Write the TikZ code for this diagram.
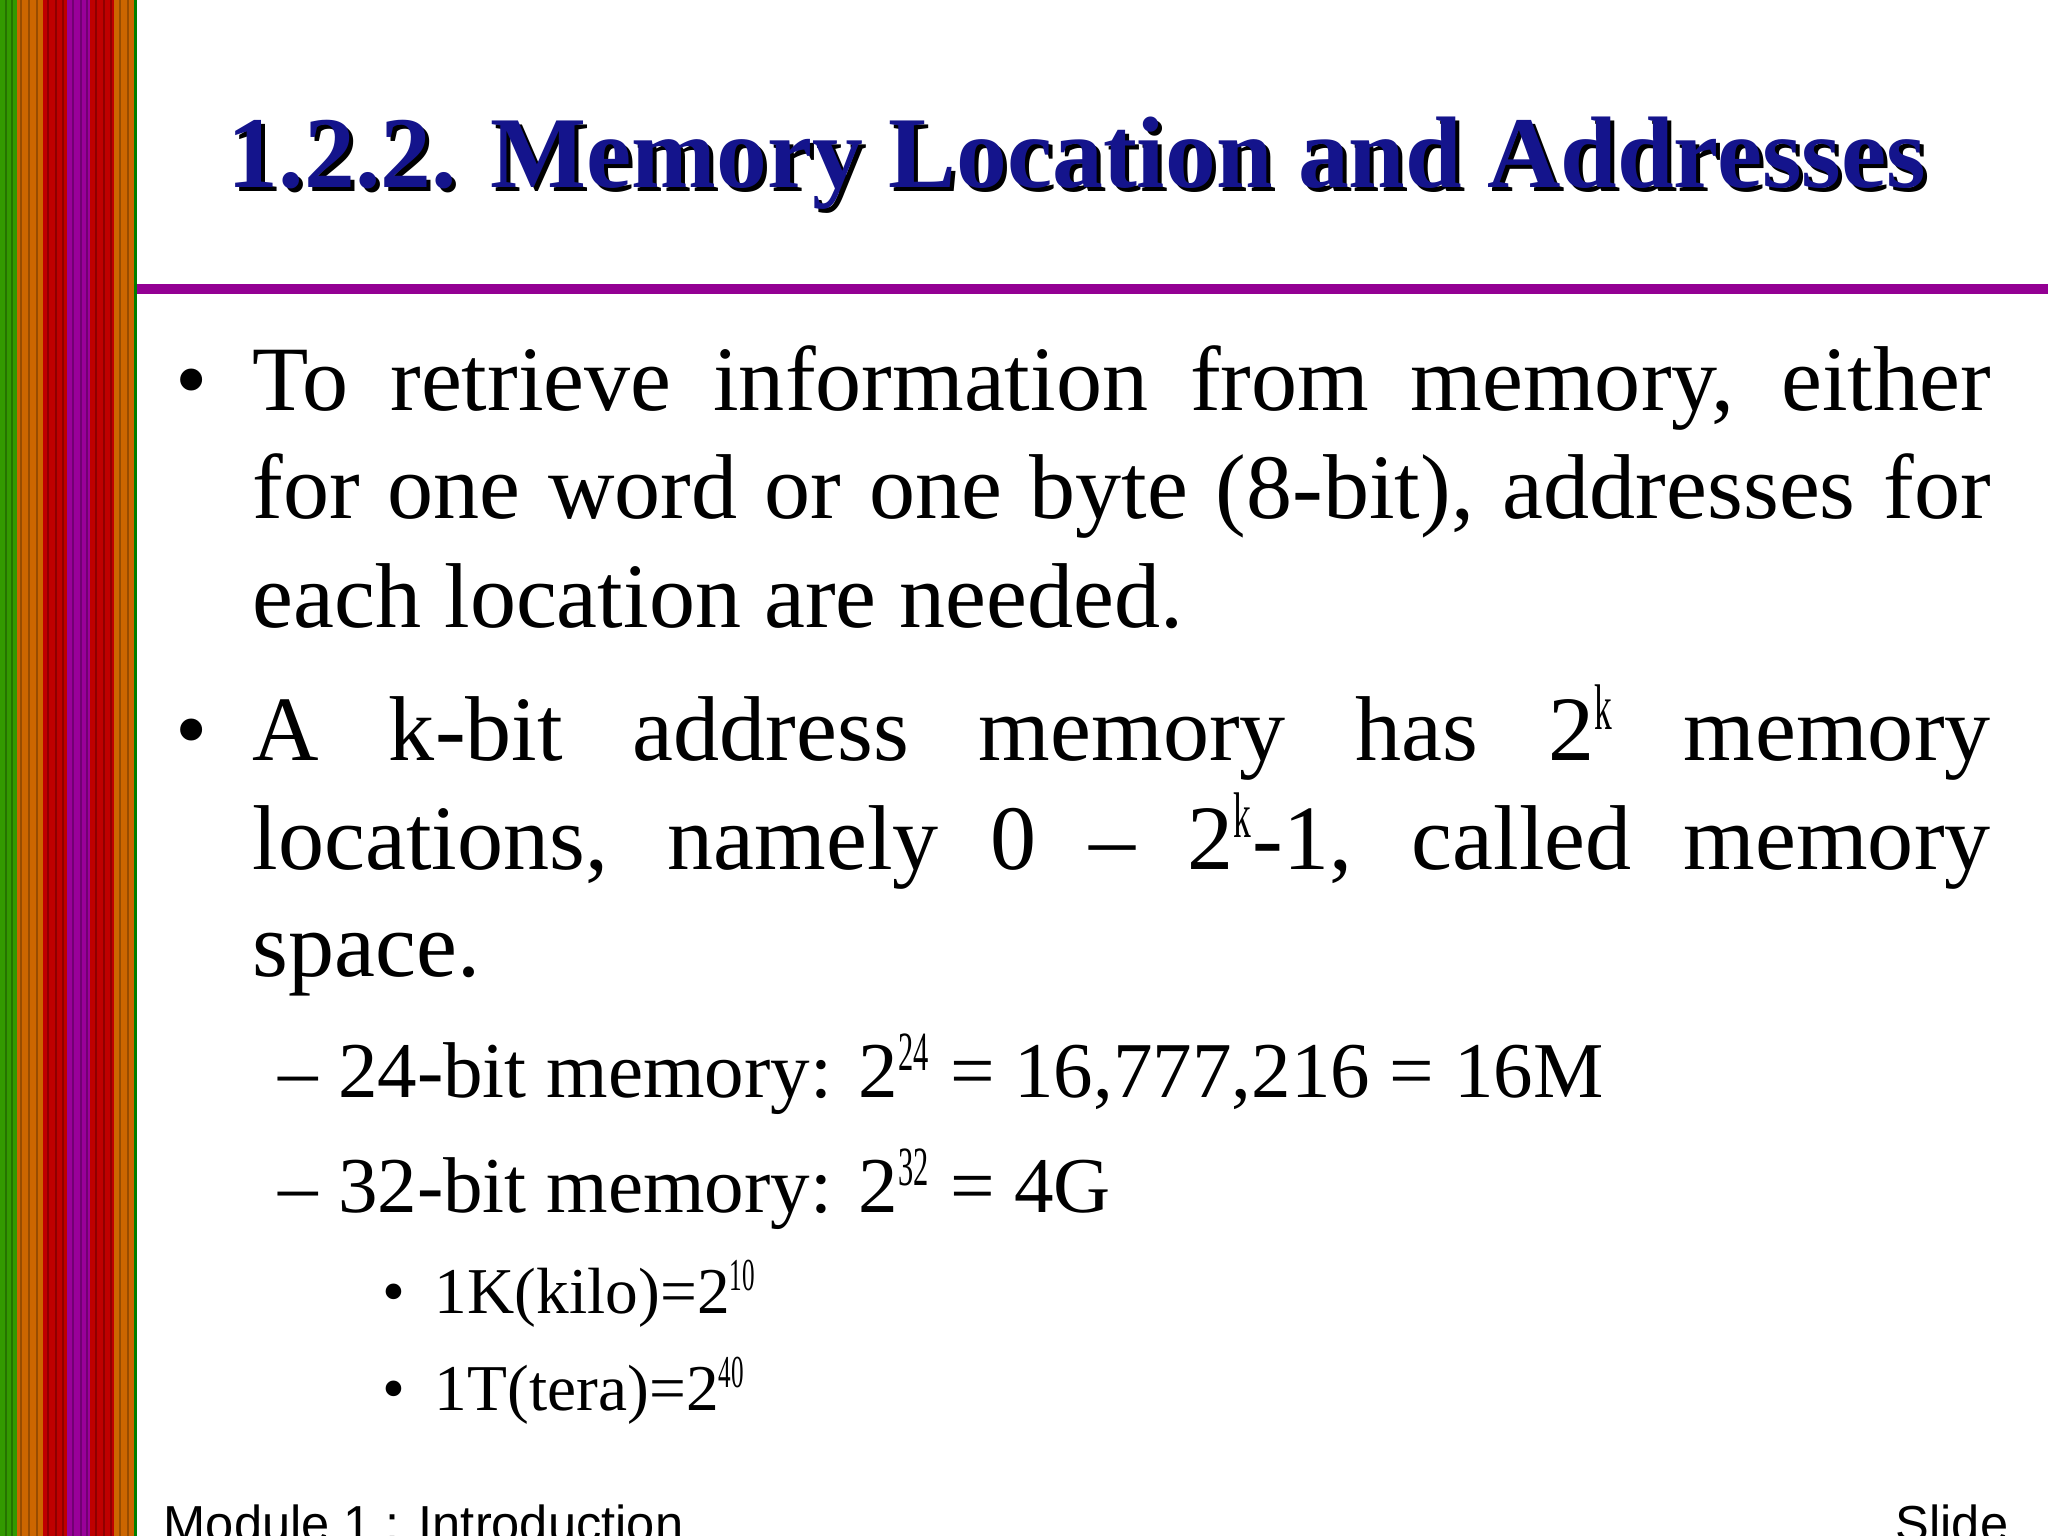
\documentclass[tikz,border=0pt]{standalone}
\usepackage{fontspec}
\setmainfont{Liberation Serif}
\setsansfont{Liberation Sans}
\begin{document}
\begin{tikzpicture}[x=1cm,y=1cm,
  body/.style={anchor=base west,inner sep=0pt,font=\fontsize{26.2}{31}\selectfont},
  sub/.style={anchor=base west,inner sep=0pt,font=\fontsize{22.5}{27}\selectfont},
  subsub/.style={anchor=base west,inner sep=0pt,font=\fontsize{18.6}{22}\selectfont}]
\newcommand{\sups}[1]{\textsuperscript{\scalebox{0.55}[1]{#1}}}
\newcommand{\jl}[1]{\makebox[17.38cm][s]{#1}}
\clip (0,0) rectangle (20.48,-15.36);
\fill[white] (0,0) rectangle (20.48,-15.36);
% left strip
\fill[green!50!black!80!yellow] (0,0) rectangle (0.17,-15.36);
\fill[orange!80!black] (0.17,0) rectangle (0.43,-15.36);
\fill[red!75!black] (0.43,0) rectangle (0.67,-15.36);
\fill[violet!80!magenta] (0.67,0) rectangle (0.90,-15.36);
\fill[red!75!black] (0.90,0) rectangle (1.14,-15.36);
\fill[orange!80!black] (1.14,0) rectangle (1.34,-15.36);
\fill[green!50!black] (1.34,0) rectangle (1.37,-15.36);
\foreach \x in {0.05,0.11,0.2,0.28,0.36,0.47,0.55,0.62,0.72,0.8,0.86,0.95,1.03,1.1,1.19,1.27}
  \fill[black,opacity=0.25] (\x,0) rectangle (\x+0.02,-15.36);
% rule
\fill[violet!85!magenta] (1.37,-2.84) rectangle (20.48,-2.94);
% title
\node[anchor=base,inner sep=0pt,text=black] (tshadow) at (10.81,-1.92)
  {\resizebox{16.98cm}{!}{\fontsize{30}{34}\bfseries 1.2.2. Memory Location and Addresses}};
\node[anchor=base,inner sep=0pt,text={rgb,255:red,20;green,20;blue,140}] (title) at (10.77,-1.88)
  {\resizebox{16.98cm}{!}{\fontsize{30}{34}\bfseries 1.2.2. Memory Location and Addresses}};
% bullet 1
\node[body] (b1) at (1.75,-4.11) {•};
\node[body] (l1) at (2.52,-4.11) {\jl{To retrieve information from memory, either}};
\node[body] (l2) at (2.52,-5.19) {\jl{for one word or one byte (8-bit), addresses for}};
\node[body] (l3) at (2.52,-6.27) {each location are needed.};
% bullet 2
\node[body] (b2) at (1.75,-7.61) {•};
\node[body] (m1) at (2.52,-7.61) {\jl{A k-bit address memory has 2\sups{k} memory}};
\node[body] (m2) at (2.52,-8.69) {\jl{locations, namely 0 – 2\sups{k}-1, called memory}};
\node[body] (m3) at (2.52,-9.77) {space.};
% sub items
\node[sub] (s1) at (2.78,-10.97) {–\hspace{0.25em}24-bit memory: 2\sups{24} = 16,777,216 = 16M};
\node[sub] (s2) at (2.78,-12.12) {–\hspace{0.25em}32-bit memory: 2\sups{32} = 4G};
\node[subsub] (t1) at (3.82,-13.13) {•\hspace{0.45em}1K(kilo)=2\sups{10}};
\node[subsub] (t2) at (3.82,-14.10) {•\hspace{0.45em}1T(tera)=2\sups{40}};
% footer
\node[anchor=base west,inner sep=0pt,font=\sffamily\fontsize{14.4}{17}\selectfont] (f1) at (1.63,-15.41) {Module 1 : Introduction};
\node[anchor=base east,inner sep=0pt,font=\sffamily\fontsize{14.4}{17}\selectfont] (f2) at (20.09,-15.41) {Slide};
\end{tikzpicture}
\end{document}
